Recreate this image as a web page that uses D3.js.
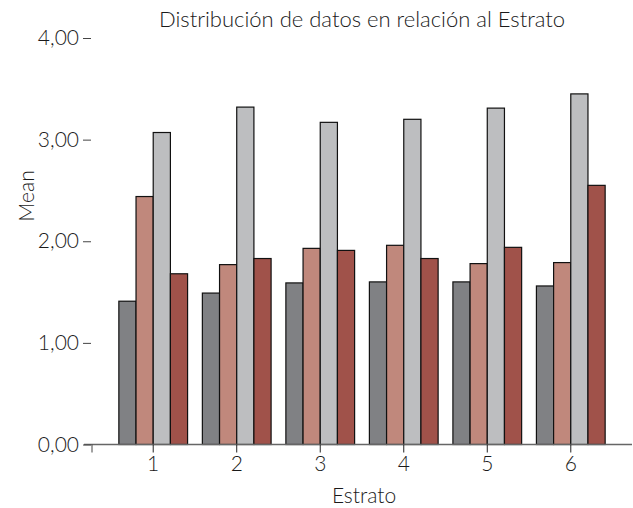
<!DOCTYPE html>
<html><head><meta charset="utf-8">
<script src="https://cdn.jsdelivr.net/npm/d3@7"></script>
<style>body{margin:0;background:#fff}svg{display:block}text{font-family:Lato,sans-serif;font-weight:300;fill:#1a1a1a}</style>
</head><body>
<svg id="c" width="633" height="508"></svg>
<script>
const categories = ["1","2","3","4","5","6"];
const seriesNames = ["s1","s2","s3","s4"];
const s1 = [1.41,1.49,1.59,1.60,1.60,1.56];
const s2 = [2.44,1.77,1.93,1.96,1.78,1.79];
const s3 = [3.07,3.32,3.17,3.20,3.31,3.45];
const s4 = [1.68,1.83,1.91,1.83,1.94,2.55];
const yTicks = [0,1,2,3,4];
const colors = ["#808184","#c0887c","#bdbec0","#a0524a"];
const series = [s1,s2,s3,s4];
const FS = 21;

const svg = d3.select("#c");
const y = d3.scaleLinear().domain([0,4]).range([444.5,38]);
const x = d3.scaleBand().domain(categories).range([111.5,612.5]).paddingInner(0.177).paddingOuter(0.088);
const xs = d3.scaleBand().domain(seriesNames).range([0,x.bandwidth()]);

categories.forEach((c,i)=>{
  series.forEach((s,j)=>{
    svg.append("rect")
      .attr("x", x(c)+xs(seriesNames[j]))
      .attr("y", y(s[i]))
      .attr("width", xs.bandwidth())
      .attr("height", y(0)-y(s[i]))
      .attr("fill", colors[j])
      .attr("stroke","#111").attr("stroke-width",1.2);
  });
});

svg.append("line").attr("x1",84).attr("x2",632).attr("y1",y(0)).attr("y2",y(0)).attr("stroke","#666").attr("stroke-width",1.3);
svg.append("line").attr("x1",92).attr("x2",92).attr("y1",y(0)).attr("y2",y(0)+8).attr("stroke","#444");

const xa = svg.append("g").attr("transform",`translate(0,${y(0)})`)
  .call(d3.axisBottom(x).tickSize(8).tickPadding(4));
xa.select(".domain").remove();
xa.selectAll(".tick line").attr("stroke","#222");
xa.selectAll("text").attr("font-size",FS).attr("fill","#1a1a1a").style("font-family","Lato,sans-serif").style("font-weight",300);

const ya = svg.append("g").attr("transform","translate(91,0)")
  .call(d3.axisLeft(y).tickValues(yTicks).tickSize(8).tickPadding(4).tickFormat(d=>d3.format(".2f")(d).replace(".",",")));
ya.select(".domain").remove();
ya.selectAll(".tick line").attr("stroke","#444");
ya.selectAll("text").attr("font-size",FS).attr("fill","#1a1a1a").style("font-family","Lato,sans-serif").style("font-weight",300);

svg.append("text").attr("x",362).attr("y",27).attr("text-anchor","middle").attr("font-size",22).text("Distribución de datos en relación al Estrato");
svg.append("text").attr("x",364).attr("y",503).attr("text-anchor","middle").attr("font-size",FS).text("Estrato");
svg.append("text").attr("transform","translate(34,196) rotate(-90)").attr("text-anchor","middle").attr("font-size",FS).text("Mean");
</script>
</body></html>
